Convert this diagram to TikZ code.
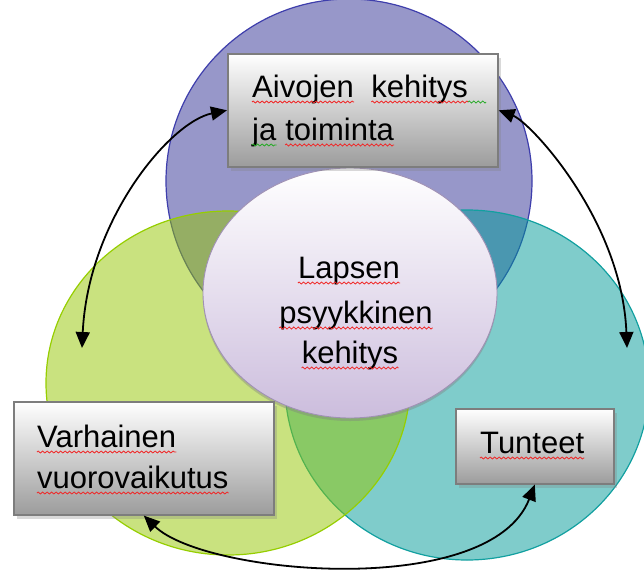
\documentclass[tikz,border=0pt]{standalone}
\usepackage{fontspec}
\setmainfont{Liberation Sans}
\usetikzlibrary{arrows.meta,shadows,shapes.geometric,decorations.pathmorphing}

% palette
\definecolor{vblue}{RGB}{47,47,147}
\definecolor{vblueline}{RGB}{62,62,172}
\definecolor{vteal}{RGB}{0,153,152}
\definecolor{vtealline}{RGB}{18,160,160}
\definecolor{vgreen}{RGB}{148,198,0}
\definecolor{vgreenline}{RGB}{150,206,0}
\definecolor{lilac}{RGB}{204,189,221}
\definecolor{lilacline}{RGB}{160,145,180}
\definecolor{boxline}{RGB}{125,125,125}
\definecolor{boxbottom}{RGB}{156,156,156}
\definecolor{spellred}{RGB}{240,40,40}
\definecolor{spellgreen}{RGB}{40,170,40}

\tikzset{
  textbox/.style={rectangle, draw=boxline, line width=1.6pt, inner sep=0pt,
    top color=white, bottom color=boxbottom, anchor=north west,
    drop shadow={shadow xshift=3pt, shadow yshift=-4pt, opacity=.3}},
  core/.style={ellipse, draw=lilacline, line width=.9pt, inner sep=0pt,
    top color=white, bottom color=lilac,
    drop shadow={shadow xshift=0pt, shadow yshift=-3pt, opacity=.4}},
  lbl/.style={anchor=base west, inner sep=0pt, text=black},
  clbl/.style={anchor=base, inner sep=0pt, text=black},
  spell/.style={line width=.8pt, decorate,
    decoration={zigzag, segment length=4.5pt, amplitude=1pt}},
  link/.style={line width=1.8pt, black,
    arrows={Triangle[length=16pt,width=14pt]-Triangle[length=16pt,width=14pt]}}
}
% wavy proofing mark under a word node
\newcommand\proofmark[2][spellred]{%
  \draw[spell, draw=#1] ([yshift=-5pt]#2.base west) -- ([yshift=-5pt]#2.base east);}

\begin{document}
\begin{tikzpicture}[x=1pt,y=-1pt,font=\fontsize{31}{41}\selectfont]
\useasboundingbox (0,0) rectangle (644,570);

% three overlapping translucent circles
\draw[draw=vblueline, line width=1.2pt, fill=vblue, fill opacity=.5]
  (349,181) ellipse [x radius=183, y radius=182];
\draw[draw=vtealline, line width=1.2pt, fill=vteal, fill opacity=.5]
  (467,385) ellipse [x radius=182, y radius=175];
\draw[draw=vgreenline, line width=1.2pt, fill=vgreen, fill opacity=.5]
  (228,383) ellipse [x radius=182, y radius=172];

% central ellipse
\node[core, minimum width=294pt, minimum height=250pt] (center) at (350,293) {};
\node[clbl] (c1) at (349,278) {Lapsen};
\node[clbl] (c2) at (356,323) {psyykkinen};
\node[clbl] (c3) at (350,363) {kehitys};
\proofmark{c1}\proofmark{c2}\proofmark{c3}

% boxes
\node[textbox, minimum width=270pt, minimum height=113pt] (brain) at (227,53) {};
\node[lbl] (b1) at (252,97) {Aivojen};
\node[lbl] (b2) at ([xshift=17.2pt]b1.base east) {kehitys};
\coordinate (b3) at ([xshift=18pt]b2.base east);
\node[lbl] (b4) at (252,140) {ja};
\node[lbl] (b5) at ([xshift=8.6pt]b4.base east) {toiminta};
\proofmark{b1}\proofmark{b2}\proofmark{b5}\proofmark[spellgreen]{b4}
\draw[spell, draw=spellgreen] ([yshift=-5pt]b2.base east) -- ([yshift=-5pt]b3);

\node[textbox, minimum width=260pt, minimum height=113pt] (early) at (13,401) {};
\node[lbl] (e1) at (37,447) {Varhainen};
\node[lbl] (e2) at (37,488) {vuorovaikutus};
\proofmark{e1}\proofmark{e2}

\node[textbox, minimum width=158pt, minimum height=75pt] (feel) at (455,408) {};
\node[lbl] (f1) at (480,453) {Tunteet};
\proofmark{f1}

% two-way links
\coordinate (lefttip) at (82,348);
\coordinate (righttip) at (627,348);
\draw[link] (brain.west) .. controls (170,122) and (88,220) .. (lefttip);
\draw[link] (brain.east) .. controls (530,122) and (622,220) .. (righttip);
\draw[link] (early.south) .. controls (205,575) and (490,600) .. (feel.south);
\end{tikzpicture}
\end{document}
